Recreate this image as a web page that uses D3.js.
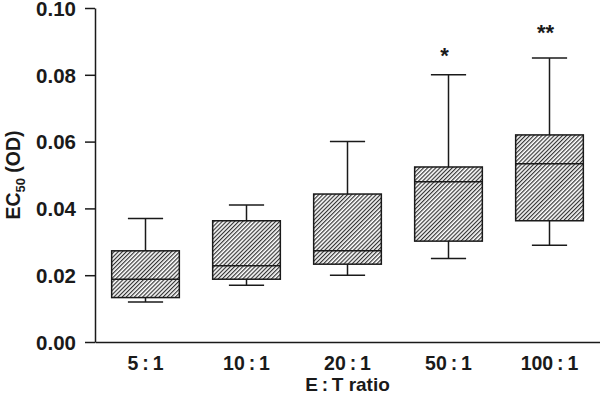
<!DOCTYPE html>
<html>
<head>
<meta charset="utf-8">
<script src="https://cdn.jsdelivr.net/npm/d3@7"></script>
<style>
  body { margin: 0; background: #fff; }
  text { font-family: "Liberation Sans", Arial, Helvetica, sans-serif; font-weight: bold; fill: #1a1a1a; }
</style>
</head>
<body>
<div id="chart"></div>
<script>
// data
let categories = ["5\u2009:\u20091", "10\u2009:\u20091", "20\u2009:\u20091", "50\u2009:\u20091", "100\u2009:\u20091"];
let whiskerLow = [0.012, 0.017, 0.020, 0.025, 0.029];
let q1 = [0.0133, 0.0188, 0.0233, 0.0302, 0.0363];
let median = [0.0188, 0.0228, 0.0273, 0.048, 0.0534];
let q3 = [0.0273, 0.0363, 0.0443, 0.0524, 0.062];
let whiskerHigh = [0.037, 0.041, 0.060, 0.080, 0.085];
let significance = ["", "", "", "*", "**"];
let yTicks = [0, 0.02, 0.04, 0.06, 0.08, 0.10];

let svgWidth = 600;
let svgHeight = 402;

let margin = { top: 8, right: 0, bottom: 60, left: 95 };
let ink = "#1a1a1a";

let svg = d3.select("#chart")
  .append("svg")
  .attr("width", svgWidth)
  .attr("height", svgHeight);

// hatch fill for the boxes
svg.append("defs")
  .append("pattern")
    .attr("id", "hatch")
    .attr("patternUnits", "userSpaceOnUse")
    .attr("width", 2.9)
    .attr("height", 2.9)
    .attr("patternTransform", "rotate(45)")
  .call(p => {
    p.append("rect").attr("width", 2.9).attr("height", 2.9).attr("fill", "#fff");
    p.append("line")
      .attr("x1", 0.6).attr("y1", 0)
      .attr("x2", 0.6).attr("y2", 2.9)
      .attr("stroke", "#333")
      .attr("stroke-width", 1.2);
  });

let rows = categories.map((c, i) => ({
  cat: c,
  lo: whiskerLow[i],
  q1: q1[i],
  med: median[i],
  q3: q3[i],
  hi: whiskerHigh[i],
  sig: significance[i]
}));

let x = d3.scaleBand()
  .domain(categories)
  .range([margin.left, svgWidth - margin.right])
  .paddingInner(0.33)
  .paddingOuter(0.165);

let y = d3.scaleLinear()
  .domain([0, 0.10])
  .range([svgHeight - margin.bottom, margin.top]);

let cx = d => x(d.cat) + x.bandwidth() / 2;
let capHalf = x.bandwidth() * 0.26;

// y axis
let yAxis = svg.append("g")
  .attr("transform", "translate(" + margin.left + ",0)")
  .call(d3.axisLeft(y).tickValues(yTicks).tickFormat(d3.format(".2f")).tickSize(10).tickSizeOuter(0));

yAxis.select(".domain").attr("stroke", ink).attr("stroke-width", 1.5);
yAxis.selectAll(".tick line").attr("stroke", ink).attr("stroke-width", 1.5);
yAxis.selectAll(".tick text")
  .attr("x", -19)
  .attr("dy", "0.36em")
  .style("font-size", "20.5px")
  .attr("fill", ink);

// x axis
let xAxis = svg.append("g")
  .attr("transform", "translate(0," + y(0) + ")")
  .call(d3.axisBottom(x).tickSize(0).tickSizeOuter(0));

xAxis.select(".domain").attr("stroke", ink).attr("stroke-width", 1.5);
xAxis.selectAll(".tick text")
  .attr("y", 14)
  .attr("dy", "0.71em")
  .style("font-size", "19.5px")
  .attr("fill", ink);

// boxes
let boxes = svg.append("g").attr("id", "boxes");

let g = boxes.selectAll("g")
  .data(rows)
  .enter()
  .append("g");

g.append("line")
  .attr("x1", cx).attr("x2", cx)
  .attr("y1", d => y(d.hi)).attr("y2", d => y(d.lo))
  .attr("stroke", ink)
  .attr("stroke-width", 1.5);

g.append("line")
  .attr("x1", d => cx(d) - capHalf).attr("x2", d => cx(d) + capHalf)
  .attr("y1", d => y(d.hi)).attr("y2", d => y(d.hi))
  .attr("stroke", ink)
  .attr("stroke-width", 1.5);

g.append("line")
  .attr("x1", d => cx(d) - capHalf).attr("x2", d => cx(d) + capHalf)
  .attr("y1", d => y(d.lo)).attr("y2", d => y(d.lo))
  .attr("stroke", ink)
  .attr("stroke-width", 1.5);

g.append("rect")
  .attr("x", d => x(d.cat))
  .attr("width", x.bandwidth())
  .attr("y", d => y(d.q3))
  .attr("height", d => y(d.q1) - y(d.q3))
  .attr("fill", "url(#hatch)")
  .attr("stroke", ink)
  .attr("stroke-width", 1.5);

g.append("line")
  .attr("x1", d => x(d.cat)).attr("x2", d => x(d.cat) + x.bandwidth())
  .attr("y1", d => y(d.med)).attr("y2", d => y(d.med))
  .attr("stroke", ink)
  .attr("stroke-width", 1.5);

// significance stars, more stars sit a little higher
g.append("text")
  .attr("x", d => cx(d) - 4)
  .attr("y", d => y(d.hi) - 4.5 - 7 * d.sig.length)
  .attr("text-anchor", "middle")
  .style("font-size", "22px")
  .text(d => d.sig);

// axis titles
svg.append("text")
  .attr("x", (margin.left + svgWidth - margin.right) / 2)
  .attr("y", 391)
  .attr("text-anchor", "middle")
  .style("font-size", "19px")
  .text("E\u2009:\u2009T ratio");

let yTitle = svg.append("text")
  .attr("transform", "translate(20," + ((y(0) + y(0.1)) / 2) + ") rotate(-90)")
  .attr("text-anchor", "middle")
  .style("font-size", "19.5px");

yTitle.append("tspan").text("EC");
yTitle.append("tspan").attr("dy", 5).style("font-size", "13px").text("50");
yTitle.append("tspan").attr("dy", -5).text(" (OD)");
</script>
</body>
</html>
